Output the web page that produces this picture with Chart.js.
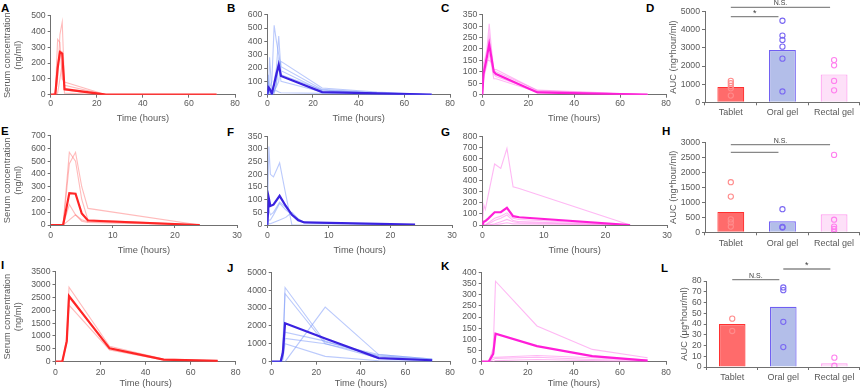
<!DOCTYPE html>
<html>
<head>
<meta charset="utf-8">
<script src="https://cdn.jsdelivr.net/npm/chart.js"></script>
<style>
  html, body { margin: 0; padding: 0; background: #fff; }
  body { position: relative; width: 865px; height: 392px; overflow: hidden; }
  canvas { position: absolute; }
  .tag { position: absolute; font: bold 11.5px 'Liberation Sans', Arial, sans-serif; line-height: 12px; color: #000; }
</style>
</head>
<body>
<div class="tag" style="left:1px;top:1.5px">A</div>
<div class="tag" style="left:227px;top:1.5px">B</div>
<div class="tag" style="left:441px;top:1.5px">C</div>
<div class="tag" style="left:646px;top:1.5px">D</div>
<div class="tag" style="left:1px;top:125px">E</div>
<div class="tag" style="left:227px;top:126px">F</div>
<div class="tag" style="left:441px;top:126px">G</div>
<div class="tag" style="left:662px;top:125px">H</div>
<div class="tag" style="left:1px;top:259px">I</div>
<div class="tag" style="left:227px;top:262px">J</div>
<div class="tag" style="left:441px;top:260px">K</div>
<div class="tag" style="left:661px;top:262px">L</div>

<canvas id="cA"></canvas><canvas id="cB"></canvas><canvas id="cC"></canvas><canvas id="cD"></canvas>
<canvas id="cE"></canvas><canvas id="cF"></canvas><canvas id="cG"></canvas><canvas id="cH"></canvas>
<canvas id="cI"></canvas><canvas id="cJ"></canvas><canvas id="cK"></canvas><canvas id="cL"></canvas>

<script>
// ---------- data ----------
const groups = ['Tablet', 'Oral gel', 'Rectal gel'];

// row 1 (0-72 h)
const timesA = [0, 0.5, 1, 2, 3, 4, 5, 6, 24, 48, 72];
const meanA = [0, 0, 0, 0, 165, 270, 260, 35, 0, 0, 0];
const subjectsA = [
  [0, 0, 0, 0, 350, 330, 100, 80, 0, 0, 0],
  [0, 0, 0, 0, 100, 380, 460, 60, 0, 0, 0],
  [0, 0, 0, 20, 200, 280, 270, 30, 0, 0, 0],
  [0, 0, 0, 0, 10, 100, 200, 10, 0, 0, 0]
];
const timesB = [0, 0.5, 1, 2, 3, 4, 5, 6, 24, 48, 72];
const meanB = [0, 55, 45, 10, 80, 155, 225, 140, 20, 10, 0];
const subjectsB = [
  [0, 0, 280, 20, 30, 60, 100, 250, 50, 20, 0],
  [0, 30, 50, 100, 520, 400, 300, 210, 40, 15, 0],
  [0, 80, 20, 0, 100, 200, 440, 180, 30, 10, 0],
  [0, 40, 20, 0, 30, 30, 20, 15, 10, 0, 0],
  [0, 150, 50, 0, 20, 100, 260, 150, 35, 10, 0],
  [0, 30, 10, 0, 10, 80, 230, 100, 20, 5, 0]
];
const timesC = [0, 0.5, 1, 2, 3, 4, 5, 6, 24, 48, 72];
const meanC = [0, 90, 115, 165, 220, 160, 100, 90, 10, 5, 0];
const subjectsC = [
  [0, 140, 150, 200, 310, 200, 110, 100, 20, 10, 0],
  [0, 110, 130, 180, 260, 180, 90, 80, 15, 8, 0],
  [0, 60, 90, 130, 180, 130, 70, 70, 12, 5, 0],
  [0, 80, 100, 150, 150, 140, 110, 110, 18, 8, 0]
];
const aucMeanD = [850, 2890, 1540];
const aucTabletD = [1180, 1050, 900, 770, 370];
const aucOralD = [4500, 3680, 3440, 3070, 2410, 600];
const aucRectalD = [2330, 2040, 1180, 660];
const sigD = [['Tablet', 'Rectal gel', 'N.S.'], ['Tablet', 'Oral gel', '*']];

// row 2 (0-24 h)
const timesE = [0, 0.25, 0.5, 1, 2, 3, 4, 5, 6, 24];
const meanE = [0, 0, 0, 0, 0, 250, 245, 90, 35, 0];
const subjectsE = [
  [0, 0, 0, 0, 0, 570, 500, 200, 40, 0],
  [0, 0, 0, 0, 0, 480, 570, 300, 130, 0],
  [0, 0, 0, 0, 0, 160, 80, 30, 20, 0],
  [0, 0, 0, 0, 0, 40, 80, 40, 25, 0]
];
const timesF = [0, 0.25, 0.5, 1, 2, 3, 4, 5, 6, 24];
const meanF = [0, 105, 75, 80, 115, 75, 40, 20, 10, 2];
const subjectsF = [
  [0, 310, 200, 190, 245, 120, 0, 0, 0, 0],
  [0, 20, 20, 40, 85, 60, 40, 15, 10, 0],
  [0, 5, 5, 10, 20, 30, 50, 25, 10, 0],
  [0, 60, 40, 50, 90, 70, 45, 20, 10, 0]
];
const timesG = [0, 0.25, 0.5, 1, 2, 3, 4, 5, 6, 24];
const meanG = [0, 30, 35, 60, 115, 115, 155, 80, 70, 0];
const subjectsG = [
  [0, 180, 140, 280, 550, 510, 690, 345, 330, 0],
  [0, 0, 0, 20, 60, 80, 110, 60, 50, 0],
  [0, 0, 0, 10, 40, 60, 90, 40, 30, 0],
  [0, 0, 0, 0, 10, 30, 50, 30, 20, 0],
  [0, 0, 0, 0, 0, 10, 20, 10, 10, 0]
];
const aucMeanH = [680, 370, 600];
const aucTabletH = [1670, 1190, 430, 330, 190];
const aucOralH = [770, 180, 160];
const aucRectalH = [2580, 420, 190, 110, 20];
const sigH = [['Tablet', 'Rectal gel', 'N.S.'], ['Tablet', 'Oral gel', '']];

// row 3 (0-72 h)
const timesI = [0, 3, 5, 6, 24, 48, 72];
const meanI = [0, 0, 800, 2550, 520, 80, 30];
const subjectsI = [
  [0, 0, 900, 2900, 600, 100, 40],
  [0, 0, 700, 2200, 460, 70, 20],
  [0, 0, 800, 2500, 540, 90, 30]
];
const timesJ = [0, 3, 4, 5, 6, 24, 48, 72];
const meanJ = [0, 0, 0, 500, 2150, 1300, 200, 80];
const subjectsJ = [
  [0, 0, 0, 800, 4150, 1100, 400, 150],
  [0, 0, 0, 600, 3800, 1000, 350, 100],
  [0, 0, 0, 300, 1650, 1150, 300, 100],
  [0, 0, 0, 200, 1000, 300, 50, 20],
  [0, 0, 0, 0, 0, 3050, 400, 150],
  [0, 0, 0, 100, 1300, 1000, 200, 50]
];
const timesK = [0, 3, 5, 6, 24, 48, 72];
const meanK = [0, 0, 35, 125, 70, 25, 5];
const subjectsK = [
  [0, 0, 60, 360, 160, 55, 18],
  [0, 0, 20, 20, 28, 18, 8],
  [0, 0, 10, 15, 20, 10, 5],
  [0, 0, 0, 5, 10, 5, 0]
];
const aucMeanL = [40, 56, 3.4];
const aucTabletL = [45, 33.5];
const aucOralL = [74, 71.5, 42, 18.5];
const aucRectalL = [8.7, 1.2];
const sigL = [['Tablet', 'Oral gel', 'N.S.'], ['Oral gel', 'Rectal gel', '*']];

// ---------- style ----------
const FONT = "'Liberation Sans', Arial, sans-serif";
const AXIS = '#707070';
const TXT = '#595959';
const RED = { bold: '#ff2626', faint: 'rgba(255,120,120,0.5)', fill: '#ff6b6b', edge: '#ff3030', dot: '#ff8c8c' };
const BLUE = { bold: '#3a22e0', faint: 'rgba(120,150,250,0.5)', fill: '#b3bee9', edge: '#6f5ef2', dot: '#7a68f2' };
const PINK = { bold: '#ff1ed8', faint: 'rgba(255,125,235,0.55)', fill: '#fde0f8', edge: '#ff9ef0', dot: '#ff80ee' };

Chart.defaults.font.family = FONT;
Chart.defaults.color = TXT;

function setBox(id, box) {
  const c = document.getElementById(id);
  const w = box.r - box.x, h = box.b - box.y;
  c.width = w;
  c.height = h;
  c.style.left = box.x + 'px';
  c.style.top = box.y + 'px';
  c.style.width = w + 'px';
  c.style.height = h + 'px';
  return c;
}

function axisLook() {
  return {
    border: { display: true, color: AXIS, width: 1 },
    grid: { display: true, drawOnChartArea: false, drawTicks: true, tickLength: 3, color: AXIS }
  };
}

function lineChart(id, box, area, o) {
  const c = setBox(id, box);
  const sets = o.subjects.map(v => ({
    data: o.times.map((t, i) => ({ x: t, y: v[i] })),
    borderColor: o.col.faint, borderWidth: 1.1, order: 2
  }));
  sets.push({
    data: o.times.map((t, i) => ({ x: t, y: o.mean[i] })),
    borderColor: o.col.bold, borderWidth: 2.2, order: 1
  });
  return new Chart(c.getContext('2d'), {
    type: 'line',
    data: { datasets: sets },
    options: {
      responsive: false,
      animation: false,
      layout: { padding: { left: 0, top: area.t - box.y, right: box.r - area.r, bottom: 0 } },
      elements: { point: { radius: 0 }, line: { tension: 0 } },
      plugins: { legend: { display: false }, tooltip: { enabled: false } },
      scales: {
        x: {
          type: 'linear', min: 0, max: o.xMax, ...axisLook(),
          ticks: { stepSize: o.xStep, padding: o.xPad, font: { size: 8.7 }, color: TXT, maxRotation: 0, autoSkip: false },
          title: { display: true, text: 'Time (hours)', padding: 0, color: TXT, font: { size: 9.3 } },
          afterFit: s => { s.height = box.b - area.b; }
        },
        y: {
          min: 0, max: o.yMax, ...axisLook(),
          ticks: { stepSize: o.yStep, padding: 2, font: { size: 8.7 }, color: TXT, autoSkip: false, callback: v => String(v) },
          title: o.yTitle
            ? { display: true, text: o.yTitle, padding: 0, color: TXT, font: { size: 9.3 } }
            : { display: false },
          afterFit: s => { s.width = area.l - box.x; }
        }
      }
    }
  });
}

// significance bars drawn above the AUC columns
const sigPlugin = {
  id: 'sig',
  afterDraw(chart, args, opts) {
    const ctx = chart.ctx, xs = chart.scales.x;
    ctx.save();
    ctx.strokeStyle = '#888';
    ctx.lineWidth = 1.3;
    ctx.fillStyle = '#404040';
    ctx.textAlign = 'center';
    ctx.textBaseline = 'bottom';
    opts.marks.forEach((m, k) => {
      const x1 = xs.getPixelForValue(groups.indexOf(m[0]));
      const x2 = xs.getPixelForValue(groups.indexOf(m[1])) - 4;
      const y = chart.chartArea.top + opts.dy[k];
      ctx.beginPath();
      ctx.moveTo(x1, y);
      ctx.lineTo(x2, y);
      ctx.stroke();
      if (m[2]) {
        ctx.font = (m[2] === '*' ? '9px ' : '7px ') + FONT;
        ctx.fillText(m[2], (x1 + x2) / 2, y - (m[2] === '*' ? -1 : 0.5));
      }
    });
    ctx.restore();
  }
};

function aucChart(id, box, area, o) {
  const c = setBox(id, box);
  const cols = [RED, BLUE, PINK];
  const sets = [{
    type: 'bar', data: o.mean,
    backgroundColor: cols.map(k => k.fill), borderColor: cols.map(k => k.edge),
    borderWidth: 1.2, barPercentage: 0.52, categoryPercentage: 1, order: 2
  }];
  o.points.forEach((pts, k) => sets.push({
    type: 'line', showLine: false,
    data: pts.map(v => ({ x: groups[k], y: v })),
    pointRadius: 2.6, pointBorderWidth: 1.1,
    pointBackgroundColor: 'rgba(255,255,255,0)', pointBorderColor: cols[k].dot,
    order: 1
  }));
  return new Chart(c.getContext('2d'), {
    type: 'bar',
    data: { labels: groups, datasets: sets },
    plugins: [sigPlugin],
    options: {
      responsive: false,
      animation: false,
      layout: { padding: { left: 0, top: area.t - box.y, right: box.r - area.r, bottom: 0 } },
      plugins: {
        legend: { display: false }, tooltip: { enabled: false },
        sig: { marks: o.sig, dy: o.sigY }
      },
      scales: {
        x: {
          ...axisLook(),
          grid: { display: true, offset: true, drawOnChartArea: false, drawTicks: true, tickLength: 3, color: AXIS },
          ticks: { padding: o.xPad, font: { size: 9 }, color: TXT, maxRotation: 0, autoSkip: false },
          afterFit: s => { s.height = box.b - area.b; }
        },
        y: {
          min: 0, max: o.yMax, ...axisLook(),
          ticks: { stepSize: o.yStep, padding: 2, font: { size: 8.7 }, color: TXT, autoSkip: false, callback: v => String(v) },
          title: { display: true, text: o.yTitle, padding: 0, color: TXT, font: { size: 9.3 } },
          afterFit: s => { s.width = area.l - box.x; }
        }
      }
    }
  });
}

const serum = ['Serum concentration', '(ng/ml)'];

// ---------- row 1 ----------
lineChart('cA', { x: 2, y: 4, r: 244, b: 124 }, { l: 50.7, t: 15.7, r: 235, b: 94.7 },
  { times: timesA, mean: meanA, subjects: subjectsA, col: RED, xMax: 80, xStep: 20, yMax: 500, yStep: 100, xPad: 0.5, yTitle: serum });
lineChart('cB', { x: 228, y: 4, r: 460, b: 124 }, { l: 267.3, t: 14.7, r: 450, b: 94.7 },
  { times: timesB, mean: meanB, subjects: subjectsB, col: BLUE, xMax: 80, xStep: 20, yMax: 600, yStep: 100, xPad: 0.5 });
lineChart('cC', { x: 444, y: 4, r: 676, b: 124 }, { l: 482.3, t: 14.7, r: 666, b: 94.7 },
  { times: timesC, mean: meanC, subjects: subjectsC, col: PINK, xMax: 80, xStep: 20, yMax: 350, yStep: 50, xPad: 0.5 });
aucChart('cD', { x: 668, y: 0, r: 865, b: 124 }, { l: 705, t: 11.7, r: 862, b: 102.3 },
  { mean: aucMeanD, points: [aucTabletD, aucOralD, aucRectalD], yMax: 5000, yStep: 1000, xPad: 1.6,
    yTitle: 'AUC (ng*hour/ml)', sig: sigD, sigY: [-4.4, 5] });

// ---------- row 2 ----------
lineChart('cE', { x: 2, y: 126, r: 246, b: 256 }, { l: 50.7, t: 135.7, r: 237, b: 225 },
  { times: timesE, mean: meanE, subjects: subjectsE, col: RED, xMax: 30, xStep: 10, yMax: 700, yStep: 100, xPad: 2.8, yTitle: serum });
lineChart('cF', { x: 228, y: 126, r: 462, b: 256 }, { l: 267.3, t: 136.3, r: 452, b: 225 },
  { times: timesF, mean: meanF, subjects: subjectsF, col: BLUE, xMax: 30, xStep: 10, yMax: 350, yStep: 50, xPad: 2.8 });
lineChart('cG', { x: 444, y: 126, r: 677, b: 256 }, { l: 482.3, t: 136.3, r: 667, b: 225 },
  { times: timesG, mean: meanG, subjects: subjectsG, col: PINK, xMax: 30, xStep: 10, yMax: 800, yStep: 100, xPad: 2.8 });
aucChart('cH', { x: 668, y: 126, r: 865, b: 256 }, { l: 705, t: 142.3, r: 862, b: 232.3 },
  { mean: aucMeanH, points: [aucTabletH, aucOralH, aucRectalH], yMax: 3000, yStep: 500, xPad: 2.6,
    yTitle: 'AUC (ng*hour/ml)', sig: sigH, sigY: [2.4, 10] });

// ---------- row 3 ----------
lineChart('cI', { x: 2, y: 258, r: 246, b: 389 }, { l: 55.5, t: 271.7, r: 235.7, b: 361.7 },
  { times: timesI, mean: meanI, subjects: subjectsI, col: RED, xMax: 80, xStep: 20, yMax: 3500, yStep: 500, xPad: 2.4, yTitle: serum });
lineChart('cJ', { x: 228, y: 258, r: 460, b: 389 }, { l: 271.7, t: 272.3, r: 450, b: 361.7 },
  { times: timesJ, mean: meanJ, subjects: subjectsJ, col: BLUE, xMax: 80, xStep: 20, yMax: 5000, yStep: 1000, xPad: 2.4 });
lineChart('cK', { x: 444, y: 258, r: 676, b: 389 }, { l: 481.7, t: 272.3, r: 666, b: 361.7 },
  { times: timesK, mean: meanK, subjects: subjectsK, col: PINK, xMax: 80, xStep: 20, yMax: 400, yStep: 50, xPad: 2.4 });
aucChart('cL', { x: 679, y: 256, r: 865, b: 392 }, { l: 706.7, t: 281, r: 862, b: 367 },
  { mean: aucMeanL, points: [aucTabletL, aucOralL, aucRectalL], yMax: 80, yStep: 10, xPad: 1.9,
    yTitle: 'AUC (μg*hour/ml)', sig: sigL, sigY: [-1.3, -12] });
</script>
</body>
</html>
